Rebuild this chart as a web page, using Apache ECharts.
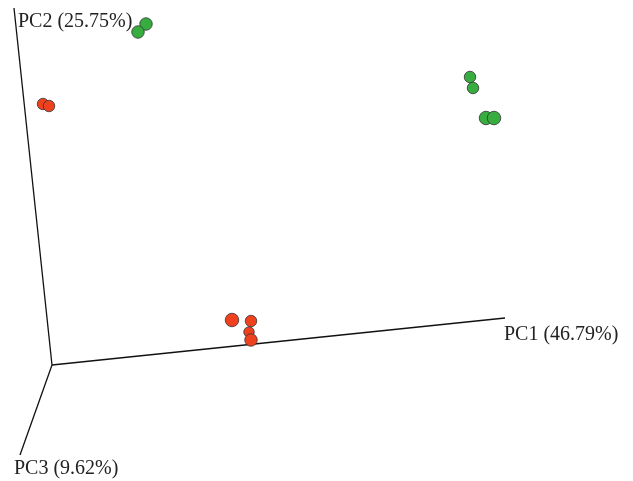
<!DOCTYPE html>
<html>
<head>
<meta charset="utf-8">
<script src="https://cdn.jsdelivr.net/npm/echarts@6/dist/echarts.min.js"></script>
<style>
  html, body { margin: 0; padding: 0; background: #fff; }
  #chart { width: 633px; height: 481px; }
</style>
</head>
<body>
<div id="chart"></div>
<script>
// Projected PCA scores (screen-plane coordinates of the 3D view)
const groupA_x = [146, 138, 470, 473, 486, 494];
const groupA_y = [24, 32, 77, 88, 118, 118];
const groupA_depth = [5.5, 5.5, 5, 5, 6, 6];

const groupB_x = [43, 49, 232, 251, 249, 251];
const groupB_y = [104, 106, 320, 321, 332, 340];
const groupB_depth = [5, 5, 6, 5, 4.5, 5.5];

// Axes of the 3D frame, from the shared origin to each tip
const origin = [52, 365];
const axisTips = [[505, 318], [14, 8], [20, 455]];
const axisNames = ['PC1 (46.79%)', 'PC2 (25.75%)', 'PC3 (9.62%)'];

const toPoints = (xs, ys) => xs.map((x, i) => [x, ys[i]]);

const chart = echarts.init(document.getElementById('chart'));

const axisSeries = axisTips.map(tip => ({
  type: 'line',
  data: [origin, tip],
  symbol: 'none',
  silent: true,
  lineStyle: { color: '#111', width: 1.3 },
  z: 1
}));

const sizeFrom = depth => (val, p) => depth[p.dataIndex] * 2 + 1.5;
const labelFont = '20px "Liberation Serif", "DejaVu Serif", serif';

chart.setOption({
  animation: false,
  grid: { left: 0, right: 0, top: 0, bottom: 0 },
  xAxis: { type: 'value', min: 0, max: 633, show: false },
  yAxis: { type: 'value', min: 0, max: 481, inverse: true, show: false },
  series: [
    ...axisSeries,
    {
      type: 'scatter',
      data: toPoints(groupB_x, groupB_y),
      symbolSize: sizeFrom(groupB_depth),
      itemStyle: { color: '#F0411F', borderColor: '#333', borderWidth: 0.8, opacity: 1 },
      z: 3
    },
    {
      type: 'scatter',
      data: toPoints(groupA_x, groupA_y),
      symbolSize: sizeFrom(groupA_depth),
      itemStyle: { color: '#36AD3E', borderColor: '#333', borderWidth: 0.8, opacity: 1 },
      z: 3
    }
  ],
  graphic: [
    { type: 'text', left: 504, top: 325, style: { text: axisNames[0], font: labelFont, fill: '#222' } },
    { type: 'text', left: 18, top: 12, style: { text: axisNames[1], font: labelFont, fill: '#222' } },
    { type: 'text', left: 14, top: 459, style: { text: axisNames[2], font: labelFont, fill: '#222' } }
  ]
});
</script>
</body>
</html>
